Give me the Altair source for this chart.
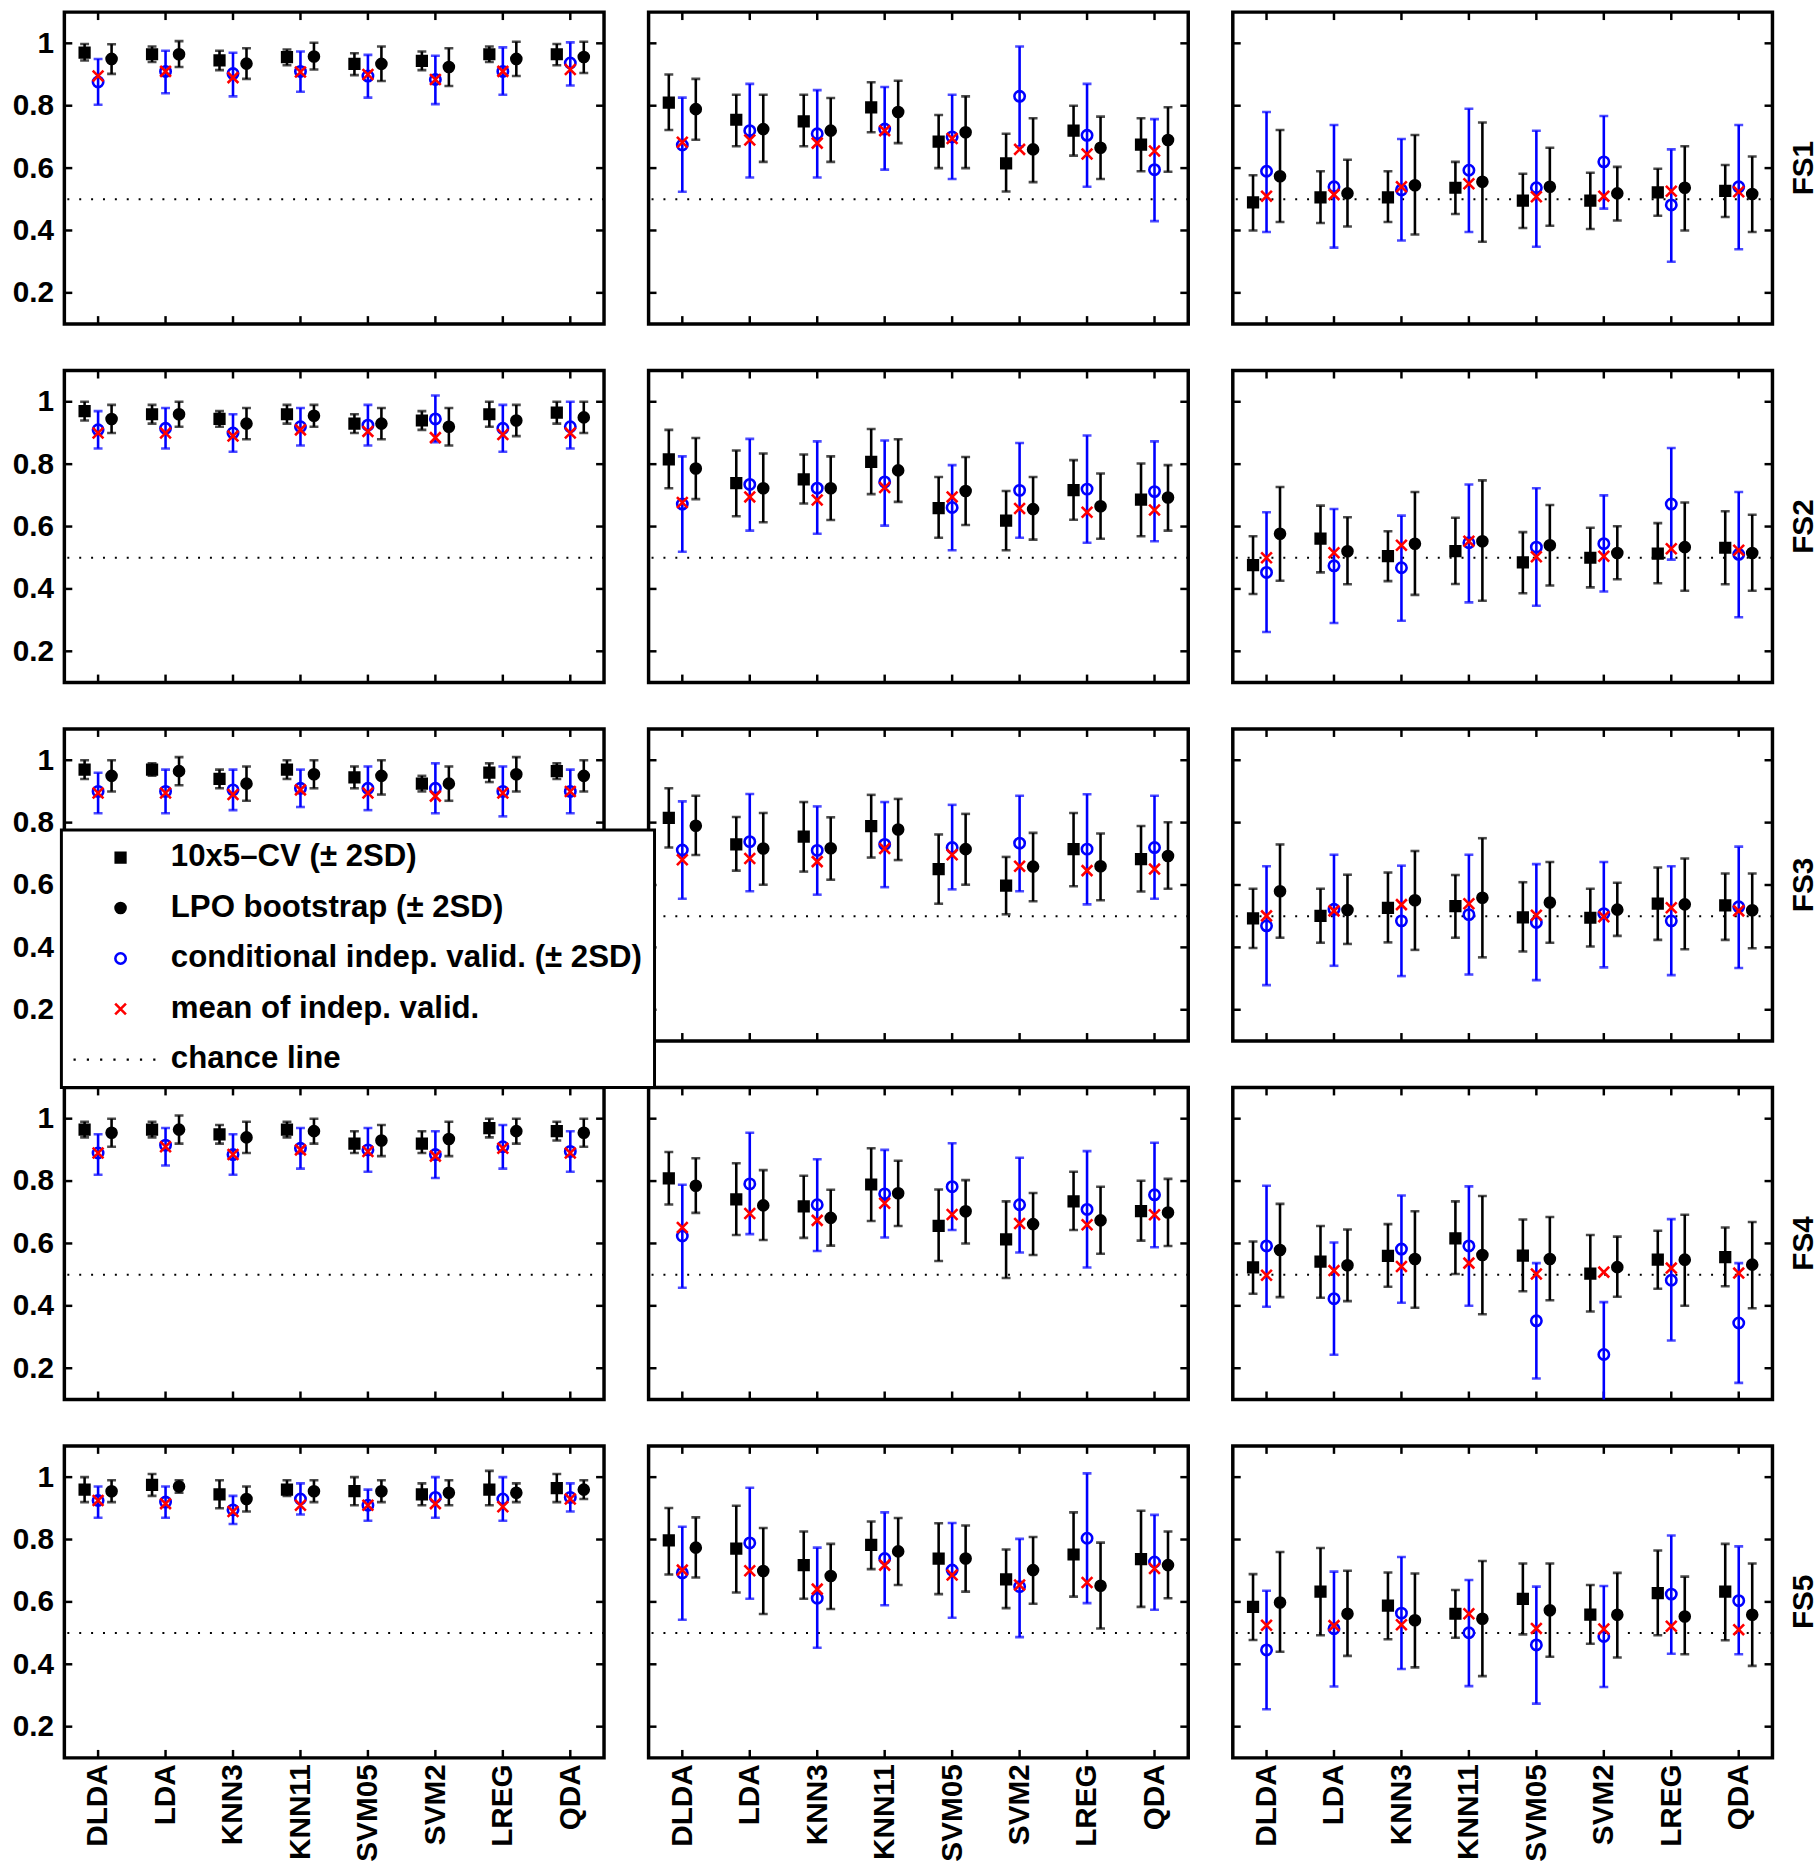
import json
import altair as alt
import pandas as pd

FONT = "Liberation Sans"
CLASSIFIERS = ["DLDA", "LDA", "KNN3", "KNN11", "SVM05", "SVM2", "LREG", "QDA"]
FEATURE_SETS = ["FS1", "FS2", "FS3", "FS4", "FS5"]
PANEL_COLUMNS = ["A", "B", "C"]
SERIES = ["10x5\u2013CV (\u00b1 2SD)", "LPO bootstrap (\u00b1 2SD)",
          "conditional indep. valid. (\u00b1 2SD)", "mean of indep. valid.", "chance line"]
Y_TICKS = [0.2, 0.4, 0.6, 0.8, 1.0]
CHANCE = 0.5

# cv: 10x5-CV, lpo: LPO bootstrap, ind: conditional indep. valid., mean: mean of indep. valid.
DATA = {
    ("FS1", "A"): dict(
        cv=[0.97, 0.965, 0.945, 0.956, 0.934, 0.944, 0.965, 0.965],
        cv_hi=[0.998, 0.99, 0.976, 0.98, 0.968, 0.974, 0.99, 0.998],
        cv_lo=[0.945, 0.94, 0.914, 0.93, 0.898, 0.914, 0.94, 0.93],
        ind=[0.876, 0.91, 0.903, 0.91, 0.895, 0.884, 0.91, 0.937],
        ind_hi=[0.95, 0.976, 0.97, 0.974, 0.963, 0.96, 0.987, 1.003],
        ind_lo=[0.803, 0.84, 0.83, 0.845, 0.826, 0.805, 0.835, 0.865],
        mean=[0.895, 0.91, 0.89, 0.908, 0.9, 0.884, 0.91, 0.916],
        lpo=[0.95, 0.965, 0.935, 0.958, 0.934, 0.924, 0.95, 0.956],
        lpo_hi=[0.997, 1.007, 0.984, 1.002, 0.99, 0.984, 1.005, 1.005],
        lpo_lo=[0.902, 0.924, 0.886, 0.916, 0.879, 0.863, 0.895, 0.905]),
    ("FS1", "B"): dict(
        cv=[0.81, 0.755, 0.75, 0.795, 0.685, 0.615, 0.72, 0.675],
        cv_hi=[0.90, 0.835, 0.835, 0.875, 0.77, 0.71, 0.80, 0.76],
        cv_lo=[0.722, 0.67, 0.67, 0.715, 0.60, 0.525, 0.64, 0.59],
        ind=[0.674, 0.72, 0.71, 0.725, 0.70, 0.83, 0.705, 0.595],
        ind_hi=[0.826, 0.87, 0.85, 0.86, 0.835, 0.99, 0.87, 0.757],
        ind_lo=[0.524, 0.57, 0.57, 0.595, 0.565, 0.67, 0.54, 0.43],
        mean=[0.683, 0.69, 0.68, 0.72, 0.695, 0.66, 0.645, 0.655],
        lpo=[0.789, 0.725, 0.72, 0.78, 0.715, 0.66, 0.665, 0.69],
        lpo_hi=[0.886, 0.835, 0.825, 0.88, 0.83, 0.76, 0.765, 0.795],
        lpo_lo=[0.691, 0.62, 0.62, 0.68, 0.60, 0.555, 0.565, 0.588]),
    ("FS1", "C"): dict(
        cv=[0.49, 0.506, 0.506, 0.537, 0.496, 0.496, 0.522, 0.527],
        cv_hi=[0.577, 0.59, 0.59, 0.62, 0.582, 0.585, 0.598, 0.61],
        cv_lo=[0.40, 0.424, 0.427, 0.453, 0.408, 0.405, 0.447, 0.443],
        ind=[0.59, 0.54, 0.53, 0.593, 0.537, 0.62, 0.482, 0.54],
        ind_hi=[0.78, 0.738, 0.693, 0.79, 0.72, 0.767, 0.66, 0.738],
        ind_lo=[0.395, 0.345, 0.368, 0.395, 0.348, 0.47, 0.30, 0.34],
        mean=[0.51, 0.515, 0.54, 0.55, 0.508, 0.51, 0.526, 0.524],
        lpo=[0.574, 0.519, 0.545, 0.556, 0.54, 0.519, 0.537, 0.517],
        lpo_hi=[0.722, 0.627, 0.706, 0.746, 0.665, 0.604, 0.67, 0.637],
        lpo_lo=[0.427, 0.413, 0.387, 0.364, 0.415, 0.432, 0.40, 0.395]),
    ("FS2", "A"): dict(
        cv=[0.97, 0.96, 0.945, 0.96, 0.93, 0.94, 0.96, 0.965],
        cv_hi=[1.0, 0.99, 0.97, 0.99, 0.96, 0.97, 1.0, 1.0],
        cv_lo=[0.94, 0.93, 0.92, 0.93, 0.90, 0.91, 0.92, 0.93],
        ind=[0.91, 0.915, 0.90, 0.92, 0.925, 0.945, 0.915, 0.92],
        ind_hi=[0.97, 0.98, 0.96, 0.98, 0.99, 1.02, 0.99, 1.0],
        ind_lo=[0.85, 0.85, 0.84, 0.86, 0.86, 0.87, 0.84, 0.85],
        mean=[0.90, 0.90, 0.89, 0.91, 0.905, 0.885, 0.895, 0.90],
        lpo=[0.945, 0.96, 0.93, 0.955, 0.93, 0.92, 0.94, 0.95],
        lpo_hi=[0.99, 1.0, 0.98, 0.99, 0.98, 0.98, 0.99, 1.0],
        lpo_lo=[0.90, 0.92, 0.88, 0.92, 0.88, 0.86, 0.89, 0.90]),
    ("FS2", "B"): dict(
        cv=[0.815, 0.739, 0.751, 0.807, 0.659, 0.619, 0.717, 0.686],
        cv_hi=[0.91, 0.844, 0.831, 0.913, 0.759, 0.714, 0.813, 0.802],
        cv_lo=[0.723, 0.633, 0.674, 0.704, 0.564, 0.524, 0.622, 0.569],
        ind=[0.672, 0.735, 0.723, 0.743, 0.661, 0.716, 0.72, 0.712],
        ind_hi=[0.825, 0.881, 0.873, 0.876, 0.797, 0.868, 0.892, 0.873],
        ind_lo=[0.519, 0.587, 0.577, 0.603, 0.524, 0.564, 0.548, 0.553],
        mean=[0.677, 0.695, 0.685, 0.725, 0.695, 0.658, 0.646, 0.653],
        lpo=[0.786, 0.723, 0.723, 0.78, 0.714, 0.656, 0.665, 0.693],
        lpo_hi=[0.884, 0.834, 0.825, 0.88, 0.823, 0.759, 0.77, 0.797],
        lpo_lo=[0.688, 0.614, 0.621, 0.679, 0.605, 0.558, 0.561, 0.587]),
    ("FS2", "C"): dict(
        cv=[0.476, 0.561, 0.505, 0.521, 0.485, 0.50, 0.513, 0.532],
        cv_hi=[0.569, 0.667, 0.585, 0.628, 0.582, 0.596, 0.611, 0.649],
        cv_lo=[0.384, 0.453, 0.425, 0.416, 0.386, 0.405, 0.418, 0.415],
        ind=[0.453, 0.474, 0.468, 0.548, 0.534, 0.545, 0.672, 0.511],
        ind_hi=[0.646, 0.656, 0.635, 0.735, 0.723, 0.70, 0.852, 0.711],
        ind_lo=[0.262, 0.291, 0.298, 0.357, 0.346, 0.392, 0.494, 0.309],
        mean=[0.50, 0.516, 0.54, 0.553, 0.503, 0.505, 0.529, 0.524],
        lpo=[0.577, 0.521, 0.545, 0.553, 0.54, 0.515, 0.534, 0.515],
        lpo_hi=[0.727, 0.63, 0.711, 0.748, 0.669, 0.601, 0.677, 0.638],
        lpo_lo=[0.426, 0.415, 0.381, 0.362, 0.411, 0.431, 0.394, 0.394]),
    ("FS3", "A"): dict(
        cv=[0.97, 0.97, 0.94, 0.97, 0.945, 0.925, 0.96, 0.965],
        cv_hi=[1.0, 0.99, 0.97, 1.0, 0.98, 0.95, 0.99, 0.99],
        cv_lo=[0.94, 0.95, 0.91, 0.94, 0.91, 0.90, 0.93, 0.94],
        ind=[0.90, 0.90, 0.905, 0.91, 0.91, 0.91, 0.90, 0.90],
        ind_hi=[0.96, 0.97, 0.97, 0.97, 0.98, 0.99, 0.98, 0.97],
        ind_lo=[0.83, 0.83, 0.84, 0.85, 0.84, 0.83, 0.82, 0.83],
        mean=[0.895, 0.895, 0.89, 0.905, 0.895, 0.885, 0.895, 0.90],
        lpo=[0.95, 0.965, 0.925, 0.955, 0.95, 0.925, 0.955, 0.95],
        lpo_hi=[1.0, 1.01, 0.98, 1.0, 1.0, 0.98, 1.01, 1.0],
        lpo_lo=[0.90, 0.92, 0.87, 0.91, 0.89, 0.87, 0.90, 0.90]),
    ("FS3", "B"): dict(
        cv=[0.815, 0.73, 0.755, 0.789, 0.651, 0.598, 0.715, 0.683],
        cv_hi=[0.91, 0.818, 0.866, 0.889, 0.762, 0.69, 0.831, 0.789],
        cv_lo=[0.72, 0.646, 0.643, 0.688, 0.54, 0.506, 0.596, 0.579],
        ind=[0.712, 0.739, 0.711, 0.73, 0.72, 0.734, 0.715, 0.72],
        ind_hi=[0.868, 0.892, 0.852, 0.866, 0.857, 0.886, 0.891, 0.886],
        ind_lo=[0.556, 0.58, 0.569, 0.593, 0.586, 0.58, 0.538, 0.556],
        mean=[0.681, 0.685, 0.675, 0.717, 0.697, 0.66, 0.646, 0.651],
        lpo=[0.79, 0.717, 0.718, 0.778, 0.715, 0.659, 0.66, 0.693],
        lpo_hi=[0.886, 0.831, 0.817, 0.876, 0.828, 0.767, 0.765, 0.801],
        lpo_lo=[0.696, 0.601, 0.617, 0.68, 0.601, 0.548, 0.551, 0.588]),
    ("FS3", "C"): dict(
        cv=[0.493, 0.501, 0.527, 0.532, 0.496, 0.495, 0.54, 0.535],
        cv_hi=[0.588, 0.588, 0.64, 0.632, 0.609, 0.588, 0.656, 0.637],
        cv_lo=[0.398, 0.415, 0.416, 0.431, 0.387, 0.403, 0.424, 0.424],
        ind=[0.469, 0.522, 0.485, 0.505, 0.48, 0.508, 0.485, 0.53],
        ind_hi=[0.66, 0.697, 0.662, 0.697, 0.667, 0.674, 0.66, 0.723],
        ind_lo=[0.279, 0.341, 0.308, 0.313, 0.295, 0.336, 0.311, 0.334],
        mean=[0.501, 0.517, 0.537, 0.54, 0.503, 0.498, 0.527, 0.517],
        lpo=[0.58, 0.52, 0.551, 0.559, 0.544, 0.521, 0.538, 0.519],
        lpo_hi=[0.73, 0.633, 0.709, 0.75, 0.674, 0.607, 0.685, 0.637],
        lpo_lo=[0.431, 0.411, 0.392, 0.368, 0.415, 0.437, 0.394, 0.397]),
    ("FS4", "A"): dict(
        cv=[0.965, 0.965, 0.95, 0.965, 0.92, 0.92, 0.97, 0.96],
        cv_hi=[0.99, 0.99, 0.98, 0.99, 0.96, 0.96, 1.0, 0.99],
        cv_lo=[0.94, 0.94, 0.92, 0.94, 0.89, 0.89, 0.94, 0.93],
        ind=[0.89, 0.915, 0.885, 0.905, 0.90, 0.885, 0.91, 0.895],
        ind_hi=[0.95, 0.97, 0.95, 0.97, 0.97, 0.96, 0.98, 0.96],
        ind_lo=[0.82, 0.85, 0.82, 0.84, 0.83, 0.81, 0.84, 0.83],
        mean=[0.89, 0.91, 0.885, 0.90, 0.895, 0.88, 0.905, 0.89],
        lpo=[0.955, 0.965, 0.94, 0.96, 0.93, 0.935, 0.96, 0.955],
        lpo_hi=[1.0, 1.01, 0.99, 1.0, 0.98, 0.99, 1.0, 1.0],
        lpo_lo=[0.91, 0.92, 0.89, 0.92, 0.88, 0.88, 0.92, 0.91]),
    ("FS4", "B"): dict(
        cv=[0.809, 0.741, 0.719, 0.789, 0.656, 0.613, 0.735, 0.704],
        cv_hi=[0.893, 0.857, 0.817, 0.905, 0.773, 0.735, 0.83, 0.801],
        cv_lo=[0.725, 0.627, 0.618, 0.672, 0.544, 0.489, 0.643, 0.609],
        ind=[0.624, 0.791, 0.724, 0.759, 0.782, 0.724, 0.709, 0.756],
        ind_hi=[0.788, 0.955, 0.87, 0.90, 0.921, 0.875, 0.896, 0.923],
        ind_lo=[0.458, 0.63, 0.576, 0.619, 0.643, 0.571, 0.523, 0.588],
        mean=[0.651, 0.696, 0.674, 0.729, 0.693, 0.664, 0.66, 0.692],
        lpo=[0.785, 0.722, 0.682, 0.761, 0.703, 0.662, 0.674, 0.699],
        lpo_hi=[0.873, 0.835, 0.772, 0.865, 0.803, 0.762, 0.782, 0.807],
        lpo_lo=[0.698, 0.611, 0.593, 0.656, 0.60, 0.563, 0.567, 0.592]),
    ("FS4", "C"): dict(
        cv=[0.523, 0.542, 0.56, 0.616, 0.561, 0.503, 0.548, 0.556],
        cv_hi=[0.606, 0.656, 0.662, 0.735, 0.677, 0.627, 0.641, 0.651],
        cv_lo=[0.439, 0.426, 0.461, 0.502, 0.447, 0.382, 0.455, 0.463],
        ind=[0.592, 0.423, 0.582, 0.592, 0.352, 0.244, 0.482, 0.345],
        ind_hi=[0.785, 0.603, 0.754, 0.783, 0.537, 0.412, 0.678, 0.537],
        ind_lo=[0.397, 0.243, 0.41, 0.40, 0.167, 0.08, 0.289, 0.153],
        mean=[0.498, 0.513, 0.526, 0.537, 0.502, 0.508, 0.521, 0.505],
        lpo=[0.579, 0.53, 0.55, 0.563, 0.55, 0.524, 0.548, 0.532],
        lpo_hi=[0.727, 0.645, 0.703, 0.752, 0.685, 0.622, 0.692, 0.669],
        lpo_lo=[0.428, 0.415, 0.394, 0.373, 0.418, 0.429, 0.40, 0.392]),
    ("FS5", "A"): dict(
        cv=[0.96, 0.975, 0.945, 0.96, 0.955, 0.945, 0.96, 0.965],
        cv_hi=[1.0, 1.01, 0.99, 0.99, 1.0, 0.98, 1.02, 1.01],
        cv_lo=[0.92, 0.94, 0.90, 0.94, 0.91, 0.91, 0.91, 0.92],
        ind=[0.925, 0.92, 0.895, 0.93, 0.91, 0.935, 0.93, 0.935],
        ind_hi=[0.97, 0.97, 0.94, 0.98, 0.96, 1.0, 1.0, 0.98],
        ind_lo=[0.87, 0.87, 0.85, 0.88, 0.86, 0.87, 0.86, 0.89],
        mean=[0.925, 0.915, 0.89, 0.91, 0.91, 0.915, 0.905, 0.93],
        lpo=[0.955, 0.97, 0.93, 0.955, 0.955, 0.95, 0.95, 0.96],
        lpo_hi=[0.99, 0.99, 0.97, 0.99, 0.99, 0.99, 0.98, 0.99],
        lpo_lo=[0.92, 0.95, 0.89, 0.92, 0.92, 0.91, 0.92, 0.93]),
    ("FS5", "B"): dict(
        cv=[0.797, 0.771, 0.718, 0.783, 0.739, 0.672, 0.752, 0.737],
        cv_hi=[0.901, 0.908, 0.826, 0.858, 0.852, 0.768, 0.887, 0.892],
        cv_lo=[0.688, 0.63, 0.61, 0.705, 0.625, 0.58, 0.617, 0.584],
        ind=[0.693, 0.789, 0.612, 0.739, 0.702, 0.649, 0.804, 0.728],
        ind_hi=[0.841, 0.966, 0.774, 0.887, 0.853, 0.802, 1.012, 0.879],
        ind_lo=[0.543, 0.61, 0.453, 0.589, 0.549, 0.487, 0.596, 0.575],
        mean=[0.702, 0.70, 0.641, 0.718, 0.686, 0.654, 0.662, 0.707],
        lpo=[0.774, 0.699, 0.683, 0.762, 0.739, 0.702, 0.652, 0.718],
        lpo_hi=[0.871, 0.837, 0.786, 0.869, 0.845, 0.808, 0.79, 0.826],
        lpo_lo=[0.678, 0.561, 0.577, 0.654, 0.633, 0.594, 0.515, 0.612]),
    ("FS5", "C"): dict(
        cv=[0.584, 0.633, 0.588, 0.562, 0.61, 0.559, 0.628, 0.633],
        cv_hi=[0.689, 0.773, 0.694, 0.638, 0.723, 0.654, 0.765, 0.786],
        cv_lo=[0.478, 0.493, 0.48, 0.485, 0.496, 0.466, 0.493, 0.477],
        ind=[0.446, 0.514, 0.564, 0.501, 0.462, 0.489, 0.625, 0.604],
        ind_hi=[0.636, 0.697, 0.744, 0.67, 0.649, 0.651, 0.813, 0.778],
        ind_lo=[0.256, 0.329, 0.385, 0.33, 0.274, 0.327, 0.434, 0.432],
        mean=[0.525, 0.524, 0.527, 0.562, 0.515, 0.513, 0.522, 0.511],
        lpo=[0.598, 0.562, 0.541, 0.546, 0.573, 0.559, 0.553, 0.559],
        lpo_hi=[0.76, 0.70, 0.691, 0.731, 0.723, 0.693, 0.681, 0.723],
        lpo_lo=[0.44, 0.427, 0.39, 0.362, 0.424, 0.422, 0.432, 0.395]),
}

# ---------------------------------------------------------------- table
KINDS = ["cv", "lpo", "ind", "mean"]
OFFSET = {"cv": -0.2, "lpo": 0.2, "ind": 0.0, "mean": 0.0}
KIND_SERIES = {"cv": SERIES[0], "lpo": SERIES[1], "ind": SERIES[2], "mean": SERIES[3]}

rows = []
for (fs, col), d in DATA.items():
    for kind in KINDS:
        for i, _name in enumerate(CLASSIFIERS):
            r = dict(fs=fs, col=col, kind=kind, series=KIND_SERIES[kind],
                     x=i + 1 + OFFSET[kind], value=d[kind][i])
            if kind != "mean":
                r["lo"] = d[kind + "_lo"][i]
                r["hi"] = d[kind + "_hi"][i]
            rows.append(r)
    for t in Y_TICKS:
        rows.append(dict(fs=fs, col=col, kind="ytick", value=t))
    for i in range(len(CLASSIFIERS)):
        rows.append(dict(fs=fs, col=col, kind="xtick", x=i + 1))
    rows.append(dict(fs=fs, col=col, kind="chance", value=CHANCE))
df = pd.DataFrame(rows)

# ---------------------------------------------------------------- styling
W, H = 545, 315
LW = 2.6
XSCALE = alt.Scale(domain=[0.5, len(CLASSIFIERS) + 0.5], nice=False, zero=False)
YSCALE = alt.Scale(domain=[0.1, 1.1], nice=False, zero=False)
X_AXIS = alt.Axis(values=list(range(1, len(CLASSIFIERS) + 1)),
                  labelExpr=json.dumps(CLASSIFIERS) + "[datum.value - 1]",
                  ticks=False, domain=False, grid=False, labelAngle=270,
                  labelFontSize=30, labelFontWeight="bold", labelFont=FONT,
                  labelColor="black", labelPadding=3, title=None)
Y_AXIS = alt.Axis(values=Y_TICKS, format="~g", ticks=False, domain=False, grid=False,
                  labelFontSize=30, labelFontWeight="bold", labelFont=FONT,
                  labelColor="black", labelPadding=8, title=None)


def X(f):
    return alt.X(f, scale=XSCALE, axis=X_AXIS)


def Y(f):
    return alt.Y(f, scale=YSCALE, axis=Y_AXIS)


dots = " ".join("M%.2f,-0.2h0.4v0.4h-0.4Z" % (-8.5 + 2.4 * k) for k in range(7))
XMARK = "M-1,-1L1,1M-1,1L1,-1"
SHAPE_SCALE = alt.Scale(domain=SERIES, range=["square", "circle", "circle", XMARK, dots])
FILL_SCALE = alt.Scale(domain=SERIES, range=["black", "black", "transparent", "transparent", "black"])
STROKE_SCALE = alt.Scale(domain=SERIES, range=["black", "black", "#0000ff", "#ff0000", "transparent"])
SIZE_SCALE = alt.Scale(domain=SERIES, range=[95, 125, 88, 135, 100])

LEG = alt.Legend(orient="none", legendX=-3, legendY=826, title=None,
                 labelFontSize=31.5, labelFontWeight="bold", labelFont=FONT,
                 labelColor="black", labelLimit=700, padding=12, rowPadding=18,
                 symbolOffset=32, labelOffset=35, strokeColor="black",
                 fillColor="white", symbolStrokeWidth=LW, cornerRadius=0)

kind_filter = lambda k: "datum.kind == '%s'" % k
err_filter = "datum.kind == 'cv' || datum.kind == 'lpo' || datum.kind == 'ind'"
err_color = alt.condition("datum.kind == 'ind'", alt.value("#0000ff"), alt.value("black"))

base = alt.Chart()

chance = base.mark_rule(strokeDash=[2, 10], strokeWidth=2, color="black").encode(
    y=Y("value:Q")).transform_filter(kind_filter("chance"))

bars = base.mark_rule(strokeWidth=LW, clip=True).encode(
    x=X("x:Q"), y=Y("lo:Q"), y2="hi:Q", stroke=err_color).transform_filter(err_filter)
cap_hi = base.mark_tick(orient="horizontal", size=9, thickness=LW, clip=True).encode(
    x=X("x:Q"), y=Y("hi:Q"), color=err_color).transform_filter(err_filter)
cap_lo = base.mark_tick(orient="horizontal", size=9, thickness=LW, clip=True).encode(
    x=X("x:Q"), y=Y("lo:Q"), color=err_color).transform_filter(err_filter)

points = base.mark_point(opacity=1, strokeWidth=LW).encode(
    x=X("x:Q"), y=Y("value:Q"),
    shape=alt.Shape("series:N", scale=SHAPE_SCALE, legend=LEG),
    fill=alt.Fill("series:N", scale=FILL_SCALE, legend=LEG),
    stroke=alt.Stroke("series:N", scale=STROKE_SCALE, legend=LEG),
    size=alt.Size("series:N", scale=SIZE_SCALE, legend=LEG),
).transform_filter("indexof(%s, datum.kind) >= 0" % json.dumps(KINDS))

tick_l = base.mark_rule(color="black", strokeWidth=2.5).encode(
    y=Y("value:Q"), x=alt.value(0), x2=alt.value(8)).transform_filter(kind_filter("ytick"))
tick_r = base.mark_rule(color="black", strokeWidth=2.5).encode(
    y=Y("value:Q"), x=alt.value(W - 8), x2=alt.value(W)).transform_filter(kind_filter("ytick"))
tick_t = base.mark_rule(color="black", strokeWidth=2.5).encode(
    x=X("x:Q"), y=alt.value(0), y2=alt.value(8)).transform_filter(kind_filter("xtick"))
tick_b = base.mark_rule(color="black", strokeWidth=2.5).encode(
    x=X("x:Q"), y=alt.value(H - 8), y2=alt.value(H)).transform_filter(kind_filter("xtick"))

panel = alt.layer(chance, tick_l, tick_r, tick_t, tick_b, bars, cap_hi, cap_lo, points,
                  data=df).properties(width=W, height=H)

chart = panel.facet(
    row=alt.Row("fs:N", sort=FEATURE_SETS, title=None,
                header=alt.Header(labelOrient="right", labelAngle=270, labelFontSize=30,
                                  labelFontWeight="bold", labelFont=FONT, labelColor="black",
                                  labelPadding=14)),
    column=alt.Column("col:N", sort=PANEL_COLUMNS, title=None,
                      header=alt.Header(labels=False)),
    spacing={"row": 41, "column": 39},
).properties(
    padding={"left": 12, "top": 0, "right": 0, "bottom": 0}
).configure(
    font=FONT
).configure_view(
    stroke="black", strokeWidth=3.5
).configure_legend(
    strokeWidth=3
)

chart.save("out.html", embed_options={"renderer": "svg", "actions": False})
